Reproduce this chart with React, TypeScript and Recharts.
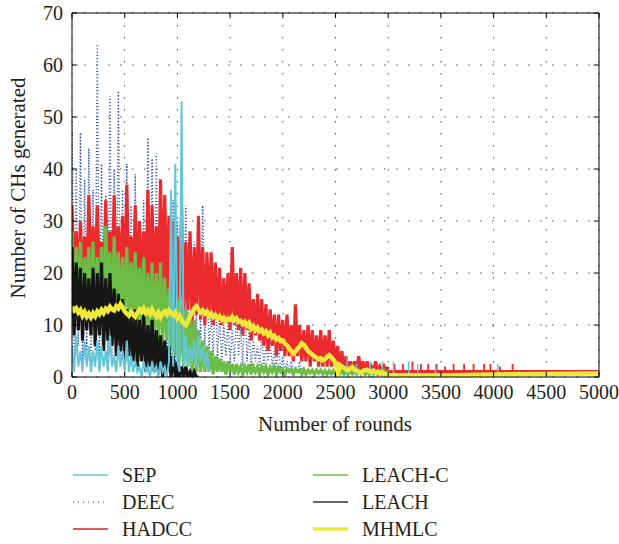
import React from "react";
import { LineChart, Line, XAxis, YAxis, CartesianGrid, ReferenceLine } from "recharts";

// rounds between two samples of the dense series
const STEP = 20;
const X_TICKS = [0, 500, 1000, 1500, 2000, 2500, 3000, 3500, 4000, 4500, 5000];
const Y_TICKS = [0, 10, 20, 30, 40, 50, 60, 70];

// HADCC, rounds 0..3000 every 20
const HADCC = [
  33, 18, 28, 17, 30, 19, 27, 18, 35, 17,
  29, 18, 33, 19, 26, 18, 34, 18, 28, 17,
  35, 17, 29, 18, 31, 16, 37, 17, 27, 16,
  33, 16, 30, 17, 28, 15, 36, 16, 33, 15,
  29, 15, 38, 16, 35, 14, 31, 13, 30, 12,
  27, 13, 32, 11, 26, 13, 28, 10, 25, 12,
  31, 11, 25, 10, 24, 12, 24, 10, 22, 11,
  21, 10, 19, 11, 20, 9, 25, 10, 20, 9,
  21, 8, 20, 9, 18, 7, 15, 8, 16, 7,
  15, 6, 14, 5, 13, 6, 12, 4, 12, 5,
  11, 4, 12, 4, 10, 3, 14, 4, 10, 3,
  9, 3, 10, 2, 9, 3, 8, 2, 9, 2,
  8, 2, 9, 2, 7, 2, 6, 1, 5, 1,
  4, 1, 3, 1, 3, 1, 4, 1, 3, 1,
  3, 1, 2, 1, 3, 1, 2, 1, 2, 1,
  2,
];
const HADCC_BASE_R = [3000, 5000];
const HADCC_BASE_V = [1, 1];
const HADCC_SPIKE_R = [3060, 3140, 3230, 3310, 3380, 3460, 3540, 3620, 3720, 3810, 3910, 3970, 4060, 4180];
const HADCC_SPIKE_V = [2.5, 2.5, 3, 2.5, 2.5, 2.5, 2, 2.5, 2.5, 2.5, 2.5, 2.5, 2, 2.5];

// DEEC, rounds 0..2200 every 20
const DEEC = [
  49, 4, 40, 6, 47, 3, 38, 5, 44, 2,
  36, 5, 64, 3, 41, 6, 35, 4, 54, 2,
  40, 5, 55, 3, 36, 6, 41, 4, 33, 5,
  39, 3, 30, 6, 34, 2, 46, 4, 42, 3,
  43, 5, 34, 2, 31, 4, 28, 3, 34, 2,
  30, 6, 27, 8, 33, 7, 28, 9, 26, 8,
  29, 7, 33, 6, 22, 5, 12, 4, 21, 3,
  12, 3, 10, 4, 11, 2, 9, 3, 12, 4,
  10, 2, 16, 3, 9, 2, 7, 3, 6, 2,
  8, 2, 6, 3, 7, 2, 5, 2, 6, 1,
  4, 1, 3, 1, 3, 1, 2, 1, 3, 1, 2,
];

// SEP, rounds 0..1300 every 20
const SEP = [
  6, 1, 8, 2, 5, 1, 7, 2, 6, 1,
  5, 2, 7, 1, 6, 2, 5, 1, 8, 2,
  4, 1, 6, 2, 5, 1, 7, 1, 4, 1,
  3, 1, 2, 0, 3, 1, 2, 0, 3, 1,
  2, 0, 3, 1, 2, 0, 3, 36, 2, 41,
  3, 1, 53, 2, 8, 2, 6, 3, 7, 2,
  8, 3, 6, 2, 5, 1,
];
const SEP_SPIKE_R = [2610, 2700, 2830, 2945, 3050, 3195, 3280, 3450, 4040];
const SEP_SPIKE_V = [4, 2.5, 3, 3, 3, 3, 2.5, 2.5, 2.5];

// LEACH-C, rounds 0..1200 every 20, then 1220..3000 every 20
const LEACHC = [
  28, 12, 25, 14, 26, 11, 23, 13, 25, 12,
  26, 13, 23, 11, 25, 12, 29, 14, 24, 10,
  27, 12, 24, 11, 23, 13, 25, 10, 22, 11,
  24, 9, 21, 10, 23, 8, 20, 9, 22, 8,
  20, 7, 22, 6, 19, 7, 17, 5, 16, 4,
  15, 3, 14, 2, 13, 2, 12, 1, 11, 1,
  9,
];
const LEACHC_TAIL = [
  1, 7, 1, 6, 1, 5, 0.5, 4, 1, 3.5,
  1, 3, 0.5, 3, 1, 2.5, 0.5, 2.5, 1, 2,
  0.5, 2, 1, 2.5, 0.5, 2, 1, 2, 0.5, 2,
  1, 2, 0.5, 1.8, 1, 2, 0.5, 1.8, 1, 1.5,
  0.5, 1.5, 1, 1.5, 0.5, 1.5, 1, 1.4, 0.5, 1.4,
  0.5, 1.3, 0.8, 1.3, 0.5, 1.3, 0.8, 1.3, 0.5, 1.2,
  0.5, 1.2, 0.6, 1.2, 0.5, 1.2, 0.6, 1.2, 0.5, 1.2,
  0.5, 1.2, 0.6, 1.2, 0.5, 1.2, 0.6, 1.2, 0.5, 1.2,
  0.5, 1.2, 0.6, 1.2, 0.5, 1.2, 0.6, 1.2, 0.5, 1.2,
];

// LEACH, rounds 0..1200 every 20
const LEACH = [
  25, 8, 22, 9, 21, 7, 20, 9, 19, 8,
  21, 6, 20, 8, 22, 5, 19, 7, 20, 6,
  17, 4, 16, 5, 15, 3, 13, 4, 12, 3,
  13, 2, 11, 3, 12, 1, 10, 2, 11, 1,
  9, 1, 8, 0, 7, 1, 6, 0, 4, 0,
  3, 0, 2, 0, 2, 0, 1, 0, 1, 0,
  0,
];

// MHMLC, rounds 0..3000 every 20
const MHMLC = [
  13.5, 12.8, 13.2, 12.4, 12.9, 11.8, 12.5, 11.6, 12.2, 11.5,
  12.3, 11.7, 12.6, 12.1, 12.9, 12.3, 13.1, 12.7, 13.5, 13.0,
  12.8, 13.6, 13.2, 14.0, 13.4, 12.6, 12.2, 11.8, 12.5, 12.0,
  11.6, 12.4, 13.0, 12.5, 13.2, 12.3, 12.8, 12.1, 13.0, 12.2,
  11.6, 12.4, 11.5, 12.3, 12.6, 12.0, 12.8, 12.3, 11.9, 12.4,
  11.3, 11.8, 10.9, 10.3, 10.0, 10.8, 11.6, 12.4, 13.2, 13.6,
  13.0, 12.4, 12.8, 12.2, 12.6, 11.8, 12.2, 11.5, 11.9, 11.3,
  11.7, 11.0, 11.4, 10.8, 11.2, 11.0, 11.6, 10.9, 11.3, 10.6,
  10.8, 10.2, 10.6, 9.9, 10.4, 9.3, 9.8, 9.0, 9.5, 8.8,
  9.1, 8.4, 8.8, 8.0, 8.5, 7.6, 7.9, 7.2, 7.5, 6.9,
  7.0, 6.4, 6.1, 5.5, 5.0, 4.5, 4.9, 5.4, 5.9, 6.5,
  6.2, 5.6, 5.0, 4.6, 4.3, 4.0, 3.7, 3.4, 3.6, 3.2,
  3.4, 3.9, 4.2, 3.8, 3.3, 2.7, 0.2, 2.3, 2.0, 1.8,
  1.5, 1.3, 1.7, 1.9, 1.4, 1.2, 1.0, 0.8, 1.1, 1.3,
  1.4, 1.1, 0.9, 1.2, 0.8, 1.0, 0.7, 0.9, 0.6, 0.5,
  0.4,
];
const MHMLC_TAIL_R = [3500, 4000, 4500, 5000];
const MHMLC_TAIL_V = [0.3, 0.5, 0.6, 0.7];

const C_SEP = "#62c6d8";
const C_DEEC = "#2c4ca6";
const C_HADCC = "#ea2a2c";
const C_LEACHC = "#6bbd45";
const C_LEACH = "#161616";
const C_MHMLC = "#eee83a";
const FONT = "'Liberation Serif', 'DejaVu Serif', serif";
const TEXT = "#231f20";

type Pt = { r: number; v: number | null };
const dense = (vals: number[], start = 0, step = STEP): Pt[] => vals.map((v, i) => ({ r: start + i * step, v }));
const pairs = (rs: number[], vs: number[]): Pt[] => rs.map((r, i) => ({ r, v: vs[i] }));
// vertical strokes from base up to the value, broken between them
const spikes = (rs: number[], vs: number[], base: number): Pt[] =>
  rs.flatMap((r, i) => [{ r, v: base }, { r, v: vs[i] }, { r, v: null }]);

const hadccData = dense(HADCC);
const hadccBase = pairs(HADCC_BASE_R, HADCC_BASE_V);
const hadccSpikes = spikes(HADCC_SPIKE_R, HADCC_SPIKE_V, 1);
const deecData = dense(DEEC);
const sepData = dense(SEP);
const sepSpikes = spikes(SEP_SPIKE_R, SEP_SPIKE_V, 0);
const leachcData = [...dense(LEACHC), ...dense(LEACHC_TAIL, 1220)];
const leachData = dense(LEACH);
const mhmlcData = [...dense(MHMLC), ...pairs(MHMLC_TAIL_R, MHMLC_TAIL_V)];

const LEGEND = [
  { name: "SEP", color: C_SEP, width: 1.5, dash: undefined },
  { name: "DEEC", color: "#6b80c8", width: 1.5, dash: "1 4" },
  { name: "HADCC", color: "#ea5858", width: 2, dash: undefined },
  { name: "LEACH-C", color: C_LEACHC, width: 1.5, dash: undefined },
  { name: "LEACH", color: "#333", width: 1.5, dash: undefined },
  { name: "MHMLC", color: C_MHMLC, width: 3.5, dash: undefined },
];

const tickStyle = { fontSize: 20, fontFamily: FONT, fill: TEXT };

export default function App() {
  const line = (data: Pt[], color: string, width: number, key: string, dash?: string) => (
    <Line
      key={key}
      data={data}
      dataKey="v"
      type="linear"
      stroke={color}
      strokeWidth={width}
      strokeDasharray={dash}
      dot={false}
      activeDot={false}
      connectNulls={false}
      isAnimationActive={false}
    />
  );

  return (
    <div style={{ position: "absolute", left: 0, top: 0, width: 619, height: 544, background: "#fff" }}>
      <LineChart width={619} height={440} margin={{ top: 13, right: 20, left: 12, bottom: 33 }}>
        <CartesianGrid strokeDasharray="1.5 10.5" stroke="#555" />
        <XAxis
          dataKey="r"
          type="number"
          domain={[0, 5000]}
          ticks={X_TICKS}
          interval={0}
          allowDataOverflow
          height={30}
          tickSize={0}
          tickMargin={8}
          tickLine={false}
          axisLine={{ stroke: "#000" }}
          tick={tickStyle}
        />
        <YAxis
          type="number"
          domain={[0, 70]}
          ticks={Y_TICKS}
          interval={0}
          allowDataOverflow
          width={60}
          tickSize={0}
          tickMargin={9}
          tickLine={false}
          axisLine={{ stroke: "#000" }}
          tick={tickStyle}
        />
        {line(deecData, C_DEEC, 1.5, "deec", "1 2.2")}
        {line(hadccData, C_HADCC, 3.2, "hadcc")}
        {line(hadccBase, C_HADCC, 3.5, "hadcc-base")}
        {line(hadccSpikes, C_HADCC, 1.8, "hadcc-spikes")}
        {line(leachcData, C_LEACHC, 3.2, "leachc")}
        {line(leachData, C_LEACH, 3.2, "leach")}
        {line(sepData, C_SEP, 2, "sep")}
        {line(sepSpikes, C_SEP, 1.5, "sep-spikes")}
        {line(mhmlcData, C_MHMLC, 4.5, "mhmlc")}
        <ReferenceLine y={70} stroke="#000" />
        <ReferenceLine x={5000} stroke="#000" />
        {X_TICKS.map((t) => (
          <ReferenceLine key={"xb" + t} segment={[{ x: t, y: 0 }, { x: t, y: 1 }]} stroke="#000" />
        ))}
        {X_TICKS.map((t) => (
          <ReferenceLine key={"xt" + t} segment={[{ x: t, y: 70 }, { x: t, y: 69 }]} stroke="#000" />
        ))}
        {Y_TICKS.map((t) => (
          <ReferenceLine key={"yl" + t} segment={[{ x: 0, y: t }, { x: 50, y: t }]} stroke="#000" />
        ))}
        {Y_TICKS.map((t) => (
          <ReferenceLine key={"yr" + t} segment={[{ x: 5000, y: t }, { x: 4950, y: t }]} stroke="#000" />
        ))}
      </LineChart>

      <div
        style={{
          position: "absolute", left: 335, top: 424, transform: "translate(-50%, -50%)",
          fontFamily: FONT, fontSize: 21, color: TEXT, whiteSpace: "nowrap",
        }}
      >
        Number of rounds
      </div>
      <div
        style={{
          position: "absolute", left: 18, top: 188, transform: "translate(-50%, -50%) rotate(-90deg)",
          fontFamily: FONT, fontSize: 21, color: TEXT, whiteSpace: "nowrap",
        }}
      >
        Number of CHs generated
      </div>

      {LEGEND.map((item, i) => {
        const col = Math.floor(i / 3);
        const row = i % 3;
        const left = col === 0 ? 73 : 313;
        const cy = 475 + row * 27;
        return (
          <div key={item.name} style={{ position: "absolute", left, top: cy - 12, height: 24, display: "flex", alignItems: "center" }}>
            <svg width={36} height={10} style={{ display: "block" }}>
              <line x1={0} y1={5} x2={35} y2={5} stroke={item.color} strokeWidth={item.width} strokeDasharray={item.dash} />
            </svg>
            <span style={{ marginLeft: 13, fontFamily: FONT, fontSize: 20, color: TEXT, lineHeight: "24px" }}>{item.name}</span>
          </div>
        );
      })}
    </div>
  );
}
